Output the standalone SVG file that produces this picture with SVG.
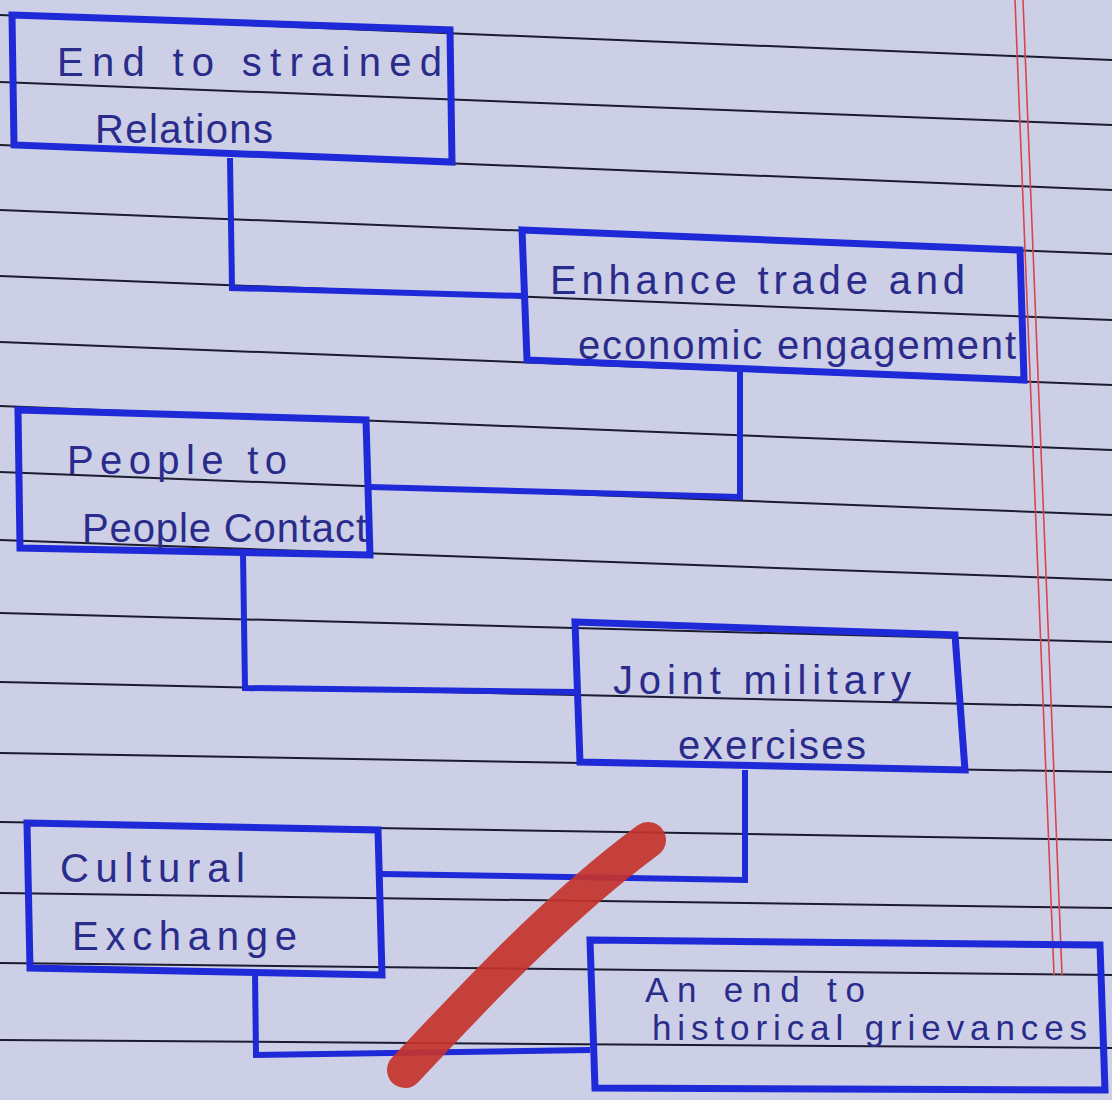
<svg xmlns="http://www.w3.org/2000/svg" width="1112" height="1100" viewBox="0 0 1112 1100">
<style>
.rule{stroke:#1c1c2e;stroke-width:2;fill:none}
.margin{stroke:#d8454f;stroke-width:1.6;fill:none}
.box{fill:none;stroke:#1e2ad8;stroke-width:7;stroke-linejoin:miter}
.conn{fill:none;stroke:#1e2ad8;stroke-width:6;stroke-linejoin:miter}
.t{font-family:"Liberation Sans",Arial,sans-serif;font-size:40px;fill:#2a2c8c;lengthAdjust:spacing}
.s{font-size:35px}
</style>
<rect width="1112" height="1100" fill="#cdcfe6"/>
<g id="paper-rules">
<line class="rule" x1="0" y1="15" x2="1112" y2="60"/>
<line class="rule" x1="0" y1="82" x2="1112" y2="125"/>
<line class="rule" x1="0" y1="145" x2="1112" y2="190"/>
<line class="rule" x1="0" y1="210" x2="1112" y2="254"/>
<line class="rule" x1="0" y1="276" x2="1112" y2="320"/>
<line class="rule" x1="0" y1="342" x2="1112" y2="385"/>
<line class="rule" x1="0" y1="406" x2="1112" y2="450"/>
<line class="rule" x1="0" y1="472" x2="1112" y2="515"/>
<line class="rule" x1="0" y1="540" x2="1112" y2="580"/>
<line class="rule" x1="0" y1="613" x2="1112" y2="642"/>
<line class="rule" x1="0" y1="682" x2="1112" y2="707"/>
<line class="rule" x1="0" y1="753" x2="1112" y2="772"/>
<line class="rule" x1="0" y1="822" x2="1112" y2="840"/>
<line class="rule" x1="0" y1="893" x2="1112" y2="908"/>
<line class="rule" x1="0" y1="963" x2="1112" y2="975"/>
<line class="rule" x1="0" y1="1040" x2="1112" y2="1048"/>
<line class="margin" x1="1015" y1="0" x2="1054" y2="975"/>
<line class="margin" x1="1023" y1="0" x2="1062" y2="975"/>
</g>
<g id="connectors">
<polyline class="conn" points="230,158 232,288 522,296"/>
<polyline class="conn" points="740,372 740,497 370,487"/>
<polyline class="conn" points="243,553 245,688 578,692"/>
<polyline class="conn" points="745,770 745,880 382,874"/>
<polyline class="conn" points="255,973 256,1055 590,1050"/>
</g>
<g id="node-1">
<polygon class="box" points="12,15 450,30 452,162 14,145"/>
<text class="t" x="57" y="76" textLength="385">End to strained</text>
<text class="t" x="95" y="143" textLength="178">Relations</text>
</g>
<g id="node-2">
<polygon class="box" points="522,230 1020,250 1024,380 527,360"/>
<text class="t" x="550" y="294" textLength="415">Enhance trade and</text>
<text class="t" x="578" y="359" textLength="438">economic engagement</text>
</g>
<g id="node-3">
<polygon class="box" points="18,410 366,420 370,555 20,548"/>
<text class="t" x="67" y="474" textLength="220">People to</text>
<text class="t" x="82" y="542" textLength="285">People Contact</text>
</g>
<g id="node-4">
<polygon class="box" points="575,622 955,635 965,770 580,762"/>
<text class="t" x="613" y="694" textLength="298">Joint military</text>
<text class="t" x="678" y="759" textLength="188">exercises</text>
</g>
<g id="node-5">
<polygon class="box" points="27,823 378,830 382,975 30,968"/>
<text class="t" x="60" y="882" textLength="185">Cultural</text>
<text class="t" x="72" y="950" textLength="225">Exchange</text>
</g>
<g id="node-6">
<polygon class="box" points="590,940 1100,945 1105,1090 595,1088"/>
<text class="t s" x="645" y="1002" textLength="220">An end to</text>
<text class="t s" x="652" y="1040" textLength="435">historical grievances</text>
</g>
<path d="M405,1070 C480,990 560,905 648,840" fill="none" stroke="#c4332c" stroke-width="36" stroke-linecap="round" opacity="0.92"/>
</svg>
